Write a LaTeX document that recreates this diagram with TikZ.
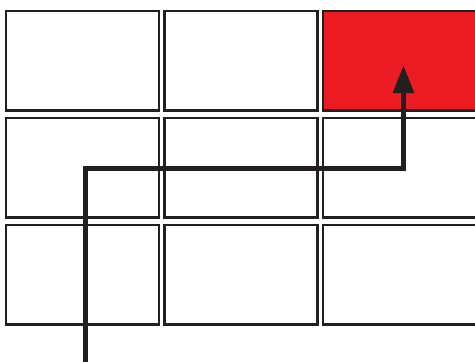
\documentclass[tikz,border=0pt]{standalone}
\usetikzlibrary{positioning,arrows.meta}
\definecolor{inkblack}{HTML}{231F20}
\definecolor{goalred}{HTML}{ED1C24}

\begin{document}
\begin{tikzpicture}[x=1pt, y=-1pt, node distance=7.5pt and 5.5pt,
  cell/.style={draw=inkblack, line width=2.3pt, minimum width=153pt, minimum height=99.5pt, inner sep=0pt, outer sep=0pt},
  route/.style={draw=inkblack, line width=5.5pt, -{Triangle[length=28pt, width=20pt]}}]
\useasboundingbox (0,0) rectangle (475,362);
\clip (0,0) rectangle (475,362);
% top row
\node[cell] (c11) at (82.5,60.75) {};
\node[cell, right=of c11] (c12) {};
\node[cell, fill=goalred, right=of c12] (c13) {};
% middle row
\node[cell, below=of c11] (c21) {};
\node[cell, right=of c21] (c22) {};
\node[cell, right=of c22] (c23) {};
% bottom row
\node[cell, below=of c21] (c31) {};
\node[cell, right=of c31] (c32) {};
\node[cell, right=of c32] (c33) {};
% path to the goal
\coordinate (start) at (85.5,362);
\coordinate (bend) at (403.5,168.5);
\coordinate (goal) at (403.5,65);
\draw[route] (start) |- (bend) -- (goal);
\end{tikzpicture}
\end{document}
